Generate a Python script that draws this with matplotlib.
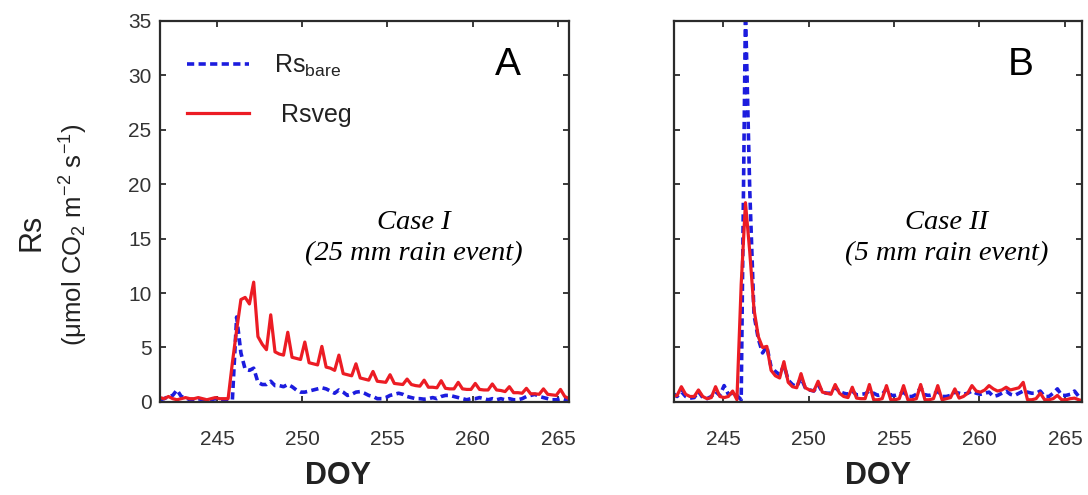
import numpy as np
import matplotlib
matplotlib.use("Agg")
import matplotlib.pyplot as plt

plt.rcParams['font.family'] = ['Liberation Sans', 'DejaVu Sans']
plt.rcParams['mathtext.fontset'] = 'custom'
plt.rcParams['mathtext.rm'] = 'Liberation Sans'
plt.rcParams['mathtext.it'] = 'Liberation Sans:italic'
plt.rcParams['mathtext.default'] = 'regular'

# soil respiration, 6-hourly, case I (25 mm rain)
rs_veg_a = [0.4, 0.3, 0.5, 0.3, 0.2, 0.3, 0.4, 0.3,
            0.3, 0.4, 0.3, 0.2, 0.3, 0.4, 0.3, 0.3,
            0.3, 3.6, 6.6, 9.4, 9.6, 9.0, 11.0, 6.0,
            5.3, 4.8, 8.0, 4.6, 4.4, 4.3, 6.4, 4.1,
            4.0, 3.9, 5.5, 3.6, 3.5, 3.4, 5.1, 3.2,
            3.1, 2.9, 4.3, 2.6, 2.5, 2.4, 3.5, 2.2,
            2.1, 2.0, 2.8, 1.9, 1.85, 1.8, 2.5, 1.7,
            1.65, 1.6, 2.1, 1.6, 1.5, 1.45, 2.0, 1.35,
            1.35, 1.3, 1.95, 1.25, 1.2, 1.2, 1.8, 1.2,
            1.15, 1.15, 1.7, 1.15, 1.1, 1.1, 1.65, 1.1,
            1.05, 0.95, 1.4, 0.85, 0.85, 0.8, 1.25, 0.75,
            0.75, 0.7, 1.2, 0.7, 0.65, 0.6, 1.15, 0.5,
            0.3]
rs_bare_a = [0.2, 0.3, 0.5, 0.6, 1.1, 0.5, 0.4, 0.2,
             0.2, 0.3, 0.2, 0.2, 0.2, 0.3, 0.2, 0.2,
             0.2, 0.2, 7.8, 4.5, 3.0, 2.9, 3.1, 1.8,
             1.6, 1.6, 1.9, 1.5, 1.5, 1.4, 1.6, 1.4,
             1.1, 0.9, 0.9, 1.0, 1.1, 1.2, 1.3, 1.2,
             1.0, 0.8, 1.1, 0.9, 0.6, 0.7, 0.9, 0.95,
             0.8, 0.6, 0.5, 0.3, 0.3, 0.4, 0.6, 0.7,
             0.8, 0.7, 0.5, 0.4, 0.3, 0.3, 0.25, 0.3,
             0.4, 0.3, 0.5, 0.6, 0.6, 0.5, 0.4, 0.3,
             0.2, 0.3, 0.3, 0.4, 0.3, 0.2, 0.3, 0.2,
             0.3, 0.2, 0.3, 0.2, 0.2, 0.3, 0.5, 0.6,
             0.7, 0.5, 0.4, 0.3, 0.2, 0.2, 0.3, 0.2,
             0.2]

# case II (5 mm rain)
rs_veg_b = [0.5, 0.6, 1.4, 0.7, 0.5, 0.5, 1.1, 0.5,
            0.3, 0.4, 1.4, 0.5, 0.4, 0.5, 1.0, 0.2,
            10.8, 18.3, 13.8, 8.5, 6.0, 5.0, 5.1, 2.9,
            2.4, 2.2, 3.7, 1.8, 1.4, 1.3, 2.6, 1.3,
            1.1, 1.0, 1.9, 0.9, 0.8, 0.7, 1.6, 0.8,
            0.5, 0.4, 1.35, 0.35, 0.3, 0.3, 1.6, 0.2,
            0.2, 0.3, 1.5, 0.2, 0.2, 0.3, 1.5, 0.2,
            0.2, 0.3, 1.6, 0.2, 0.2, 0.3, 1.5, 0.2,
            0.3, 0.4, 1.2, 0.35, 0.5, 0.8, 1.5, 1.0,
            0.9, 1.1, 1.5, 1.2, 1.0, 1.1, 1.35, 1.1,
            1.2, 1.3, 1.8, 0.2, 0.2, 0.3, 0.8, 0.2,
            0.2, 0.3, 0.6, 0.2, 0.2, 0.3, 0.35, 0.2,
            0.1]
rs_bare_b = [0.8, 0.5, 0.95, 0.5, 0.35, 0.4, 0.95, 0.4,
             0.3, 0.5, 0.95, 0.6, 1.5, 0.7, 0.8, 0.6,
             0.2, 36.0, 19.5, 8.0, 5.8, 4.5, 5.1, 3.2,
             2.8, 2.5, 3.4, 2.0, 1.6, 1.4, 2.2, 1.3,
             1.1, 1.0, 1.6, 0.9, 0.8, 0.8, 1.35, 0.95,
             0.8, 0.7, 1.0, 0.64, 0.7, 0.75, 1.0, 0.8,
             0.6, 0.7, 1.2, 0.6, 0.6, 0.7, 0.9, 0.5,
             0.5, 0.7, 1.35, 0.64, 0.6, 0.7, 1.0, 0.5,
             0.5, 0.6, 0.9, 0.8, 0.7, 0.8, 1.0, 0.8,
             0.7, 0.8, 0.9, 0.5, 0.6, 0.8, 1.0, 0.7,
             0.6, 0.8, 1.0, 0.9, 0.8, 0.8, 1.0, 0.5,
             0.5, 0.8, 1.2, 0.6, 0.6, 0.7, 1.0, 0.5,
             0.4]

doy_a = 241.65 + 0.25 * np.arange(len(rs_veg_a))
doy_b = 242.06 + 0.25 * np.arange(len(rs_veg_b))

xticks = [245, 250, 255, 260, 265]
yticks = [0, 5, 10, 15, 20, 25, 30, 35]

red = '#ec1c24'
blue = '#1c1cde'
frame = '#2b2b2b'

fig = plt.figure(figsize=(10.88, 4.95), dpi=100)
ax_a = fig.add_axes([0.147, 0.188, 0.376, 0.770])
ax_b = fig.add_axes([0.6195, 0.188, 0.375, 0.770])

panels = [
    (ax_a, doy_a, rs_bare_a, rs_veg_a, (241.65, 265.65), 'A', 'Case I', '(25 mm rain event)', 0.62),
    (ax_b, doy_b, rs_bare_b, rs_veg_b, (242.13, 266.0), 'B', 'Case II', '(5 mm rain event)', 0.668),
]

for ax, doy, bare, veg, xlim, letter, case, rain, xc in panels:
    lb, = ax.plot(doy, bare, color=blue, lw=2.6, ls=(0, (2.0, 1.2)),
                  label='Rs$_{bare}$')
    lv, = ax.plot(doy, veg, color=red, lw=2.3, label=' Rsveg')
    ax.set_xlim(*xlim)
    ax.set_ylim(0, 35)
    ax.set_xticks(xticks)
    ax.set_yticks(yticks)
    ax.tick_params(direction='in', top=True, right=True, length=4, width=1.3,
                   labelsize=15, labelcolor='#333333', color=frame)
    ax.tick_params(axis='x', pad=20)
    ax.tick_params(axis='y', pad=6)
    for sp in ax.spines.values():
        sp.set_color(frame)
        sp.set_linewidth(1.6)
    ax.text(0.85, 0.885, letter, transform=ax.transAxes, fontsize=28,
            ha='center', va='center', color='black')
    ax.text(xc, 0.472, case, transform=ax.transAxes, fontsize=20.5,
            family='Liberation Serif', style='italic', ha='center', va='center')
    ax.text(xc, 0.389, rain, transform=ax.transAxes, fontsize=20.5,
            family='Liberation Serif', style='italic', ha='center', va='center')

ax_b.tick_params(axis='y', labelleft=False)

leg = ax_a.legend(handles=[lb, lv], loc='upper left', bbox_to_anchor=(0.065, 0.915),
                  frameon=False, fontsize=18, handlelength=2.5, handletextpad=1.0,
                  labelspacing=0.95, borderpad=0, borderaxespad=0)
for t in leg.get_texts():
    t.set_color('#222222')

fig.text(338 / 1088, 1 - 476 / 495, 'DOY', fontsize=22, fontweight='bold',
         ha='center', va='center', color='#222222')
fig.text(878 / 1088, 1 - 476 / 495, 'DOY', fontsize=22, fontweight='bold',
         ha='center', va='center', color='#222222')
fig.text(31 / 1088, 1 - 232 / 495, 'Rs', fontsize=22, rotation=90,
         ha='center', va='center', color='#222222')
fig.text(74 / 1088, 1 - 235 / 495, r'($\mu$mol CO$_2$ m$^{-2}$ s$^{-1}$)',
         fontsize=18.5, rotation=90, ha='center', va='center', color='#222222')

fig.savefig('out.png', dpi=100)
